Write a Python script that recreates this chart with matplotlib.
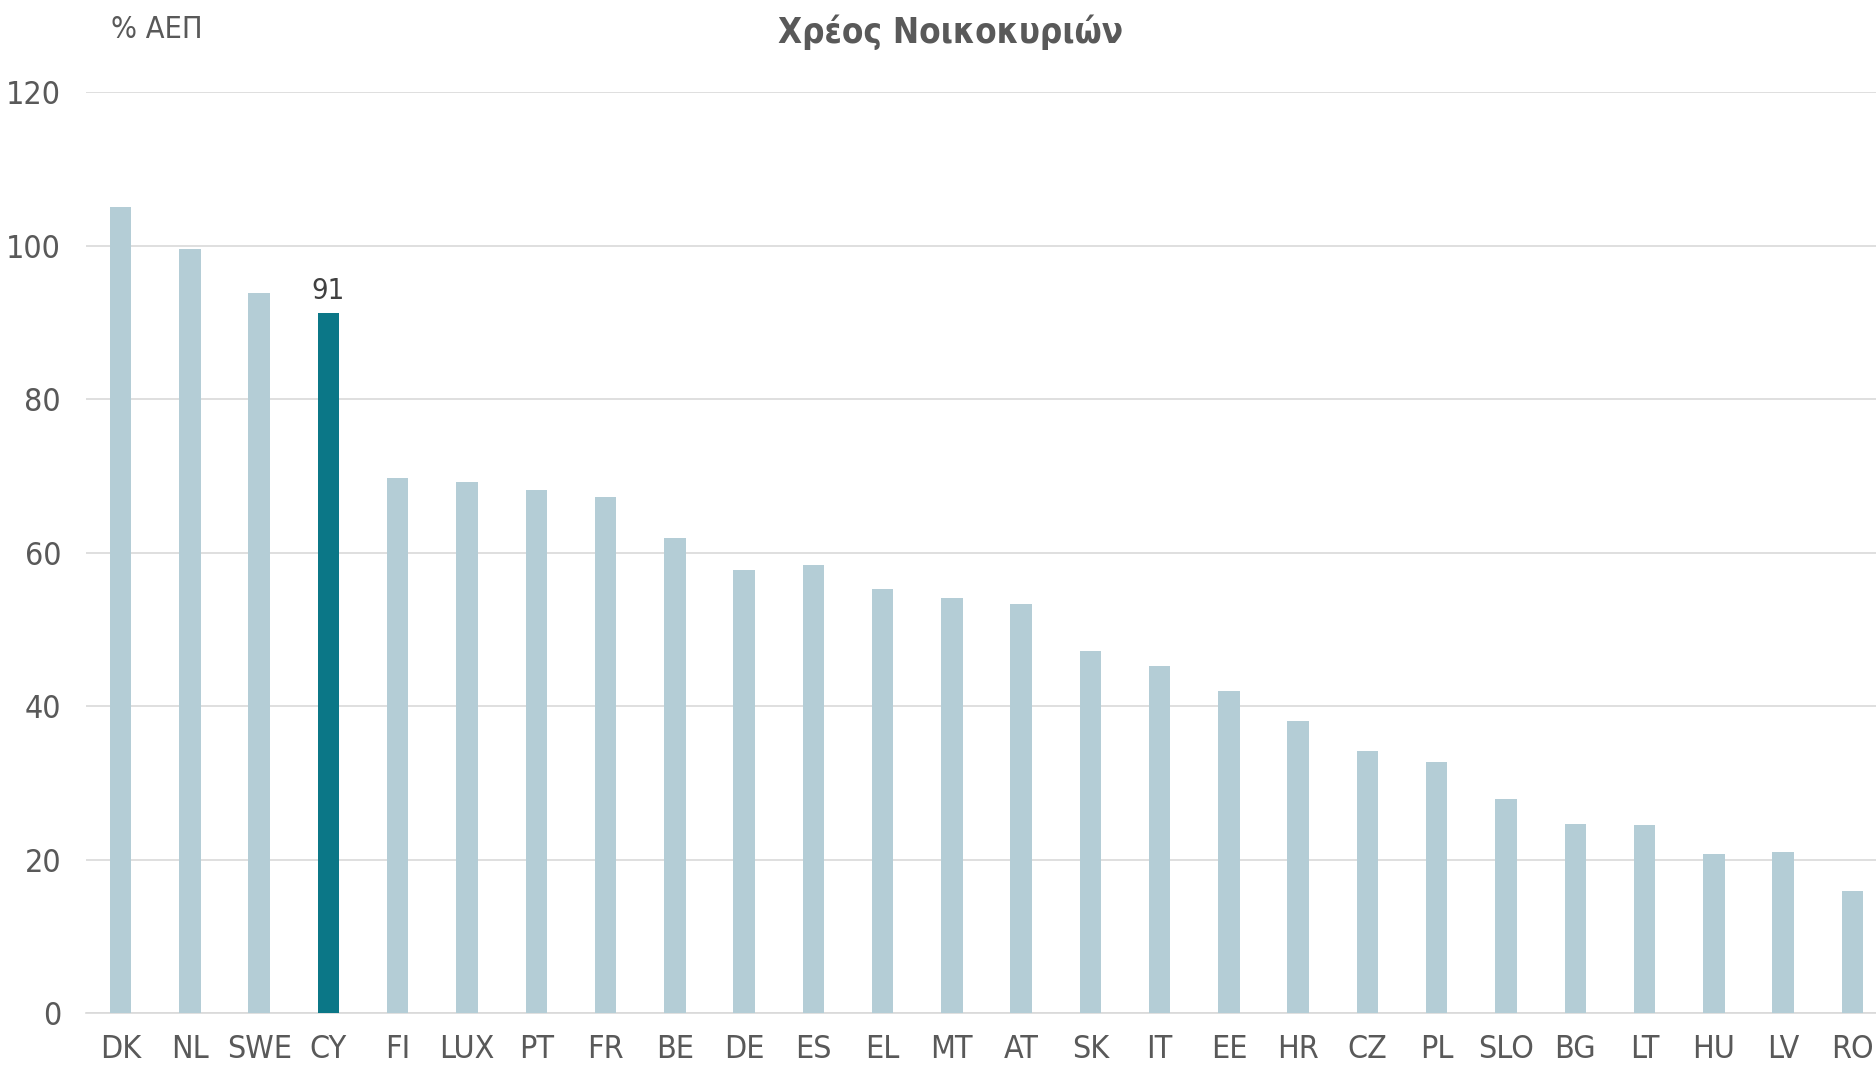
import matplotlib
matplotlib.use("Agg")
import matplotlib.pyplot as plt
import numpy as np

# household debt, % of GDP
countries = ["DK", "NL", "SWE", "CY", "FI", "LUX", "PT", "FR", "BE", "DE", "ES",
             "EL", "MT", "AT", "SK", "IT", "EE", "HR", "CZ", "PL", "SLO", "BG",
             "LT", "HU", "LV", "RO"]
debt = [105.0, 99.6, 93.8, 91.2, 69.7, 69.2, 68.1, 67.2, 61.9, 57.7, 58.4,
        55.2, 54.1, 53.3, 47.2, 45.2, 41.9, 38.0, 34.1, 32.7, 27.9, 24.6,
        24.5, 20.7, 21.0, 15.9]
highlight = "CY"
highlight_label = "91"
y_ticks = [0, 20, 40, 60, 80, 100, 120]

plt.rcParams['font.family'] = ['DejaVu Sans']
plt.rcParams['font.stretch'] = 'condensed'

W, H = 1876, 1065
fig = plt.figure(figsize=(W / 100, H / 100), dpi=100)
ax = fig.add_axes([86 / W, 1 - 1013 / H, (1887 - 86) / W, (1013 - 92) / H])

text_col = "#595959"
light = "#b4cdd6"
dark = "#0b7787"

x = np.arange(len(countries))
colors = [dark if c == highlight else light for c in countries]
ax.bar(x, debt, width=0.31, color=colors, zorder=3)

hi = countries.index(highlight)
ax.text(hi, debt[hi] + 1.1, highlight_label, ha="center", va="bottom",
        fontsize=21, color="#404040")

ax.set_xlim(-0.5, len(countries) - 0.5)
ax.set_ylim(0, 120)
ax.set_yticks(y_ticks)
ax.set_xticks(x)
ax.set_xticklabels(countries)
ax.tick_params(axis="both", length=0, labelsize=23, colors=text_col)
ax.tick_params(axis="y", pad=18)
ax.tick_params(axis="x", pad=15)

ax.grid(axis="y", color="#d9d9d9", linewidth=1.2, zorder=0)
for s in ["top", "right", "left"]:
    ax.spines[s].set_visible(False)
ax.spines["bottom"].set_color("#d9d9d9")
ax.spines["bottom"].set_linewidth(1.2)

fig.text(951 / W, 1 - 32 / H, "Χρέος Νοικοκυριών", ha="center", va="center",
         fontsize=25, fontweight="bold", color=text_col)
fig.text(111 / W, 1 - 30 / H, "% ΑΕΠ", ha="left", va="center",
         fontsize=22, color=text_col)

fig.savefig("out.png", dpi=100)
